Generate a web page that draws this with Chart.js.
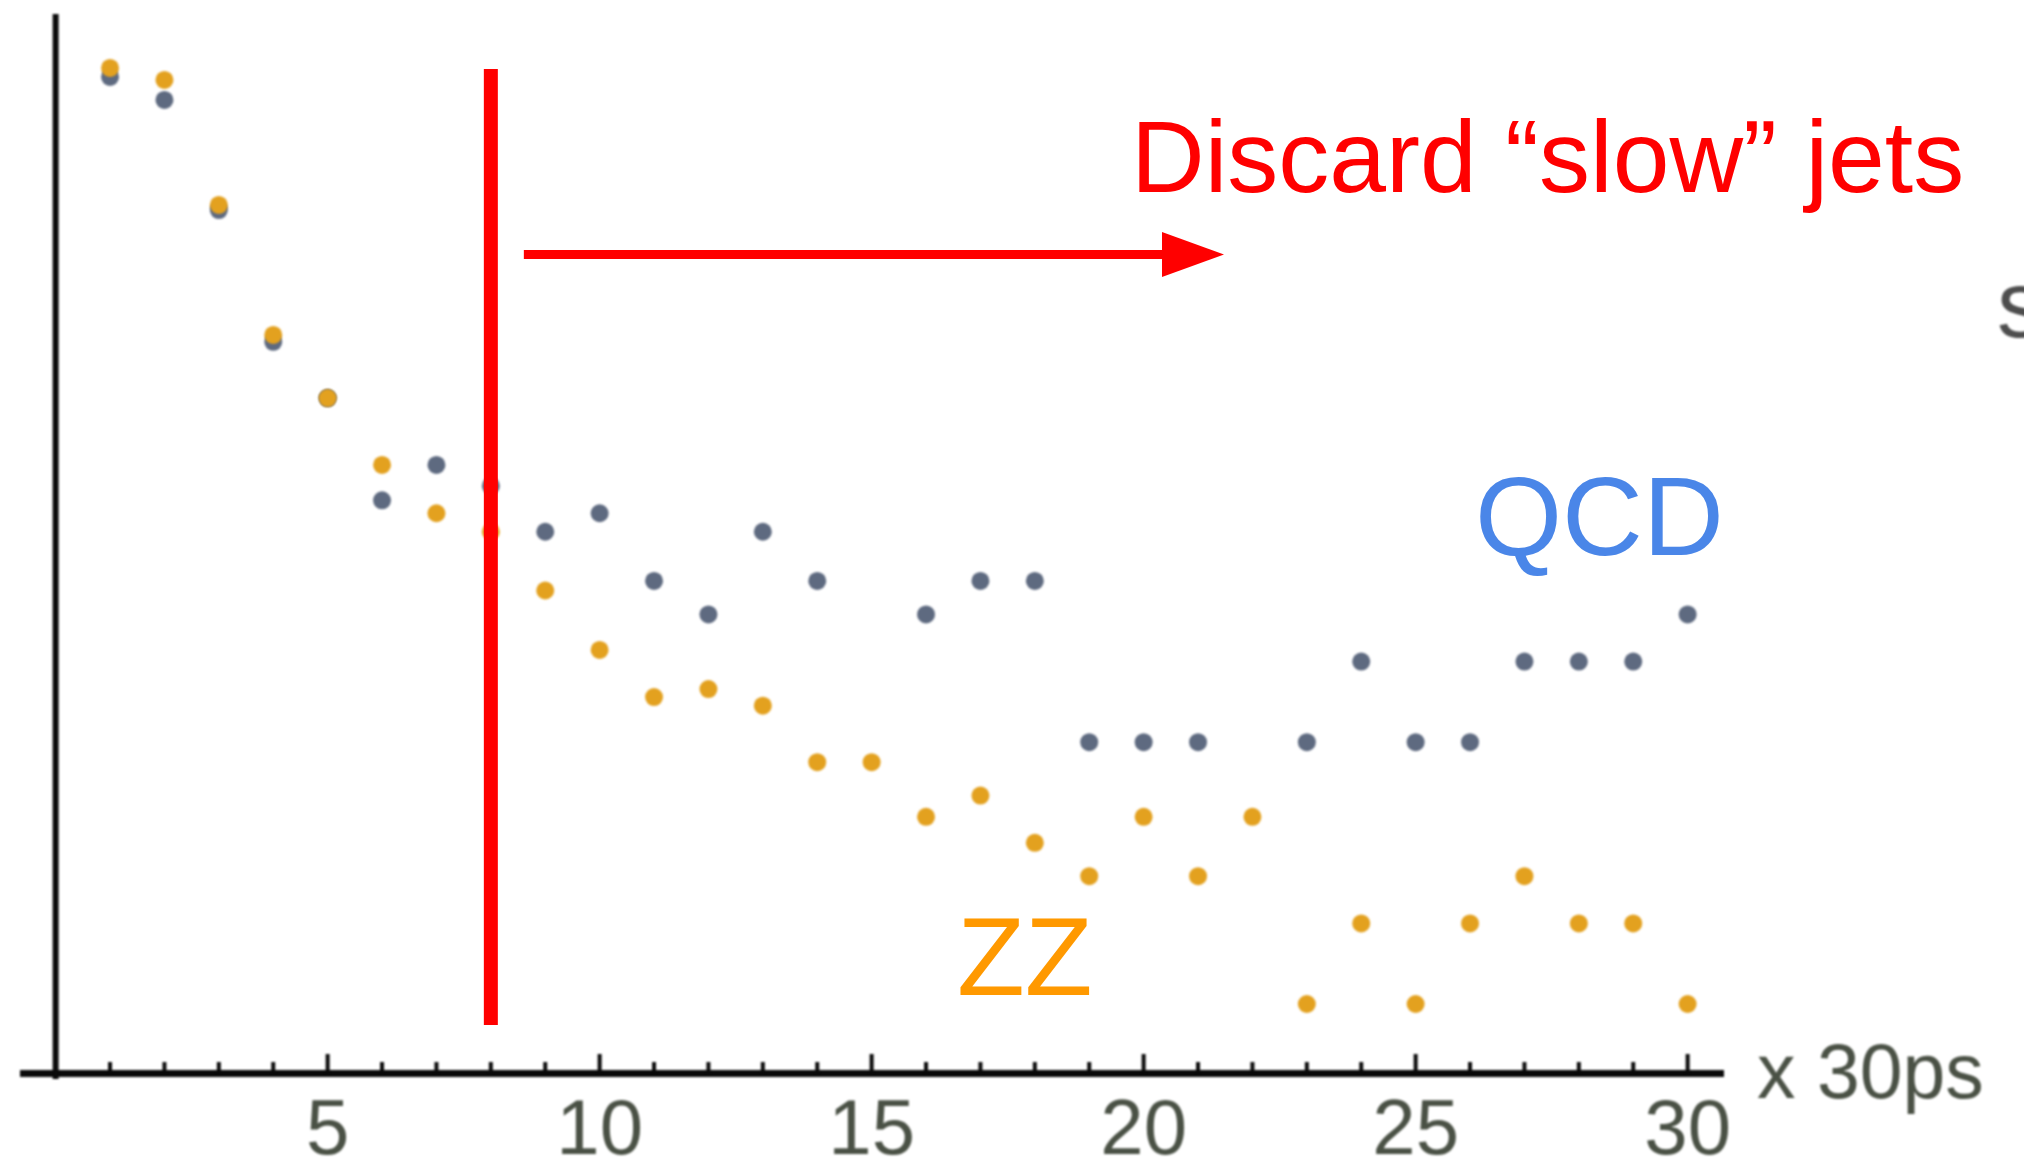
<!DOCTYPE html>
<html>
<head>
<meta charset="utf-8">
<title>Jet timing: QCD vs ZZ</title>
<script src="https://cdn.jsdelivr.net/npm/chart.js@4.4.1/dist/chart.umd.min.js"></script>
<style>
	html, body {
		margin: 0;
		padding: 0;
		background: #ffffff;
		overflow: hidden;
	}
	canvas {
		display: block;
	}
</style>
</head>
<body>
<canvas id="myChart" width="2034" height="1174"></canvas>
<script>
// time bins, 1 bin = 30 ps
const bins = [1, 2, 3, 4, 5, 6, 7, 8, 9, 10, 11, 12, 13, 14, 15, 16, 17, 18, 19, 20, 21, 22, 23, 24, 25, 26, 27, 28, 29, 30];
const tickLabels = [5, 10, 15, 20, 25, 30];

// jets per bin (log scale), null = empty bin
const zzValues = [3130, 2822, 963, 315, 183, 103, 68, 58, 35, 21, 14, 15, 13, 8, 8, 5, 6, 4, 3, 5, 3, 5, 1, 2, 1, 2, 3, 2, 2, 1];
const qcdValues = [2895, 2376, 922, 297, 183, 76, 103, 86, 58, 68, 38, 28.5, 58, 38, null, 28.5, 38, 38, 9.5, 9.5, 9.5, null, 9.5, 19, 9.5, 9.5, 19, 19, 19, 28.5];

const cutBin = 8;

const toPoints = (values) => {
	return bins
		.map((b, i) => ({ x: b, y: values[i] }))
		.filter((p) => p.y !== null);
};

const fontFamily = '"Liberation Sans", Arial, sans-serif';

// inward ticks and the vertical axis through x = 0
const axesPlugin = {
	id: 'axesPlugin',
	beforeDatasetsDraw(chart) {
		const ctx = chart.ctx;
		const xScale = chart.scales.x;
		const area = chart.chartArea;
		const x0 = xScale.getPixelForValue(0);

		ctx.save();
		ctx.strokeStyle = '#0a0a0a';
		ctx.lineWidth = 6;
		ctx.beginPath();
		ctx.moveTo(x0, area.top - 2);
		ctx.lineTo(x0, area.bottom + 6);
		ctx.stroke();

		ctx.lineWidth = 4;
		bins.forEach((b) => {
			const px = xScale.getPixelForValue(b);
			const len = b % 5 === 0 ? 19 : 11;
			ctx.beginPath();
			ctx.moveTo(px, area.bottom);
			ctx.lineTo(px, area.bottom - len);
			ctx.stroke();
		});
		ctx.restore();
	},
};

// soft look of the plotted part
const softPlugin = {
	id: 'softPlugin',
	beforeDraw(chart) {
		chart.ctx.filter = 'blur(1px)';
	},
	afterDatasetsDraw(chart) {
		chart.ctx.filter = 'none';
	},
};

// cut line, arrow and labels
const notesPlugin = {
	id: 'notesPlugin',
	afterDraw(chart) {
		const ctx = chart.ctx;
		const xScale = chart.scales.x;
		const cutX = xScale.getPixelForValue(cutBin);

		ctx.save();
		ctx.filter = 'none';

		ctx.strokeStyle = '#ff0000';
		ctx.fillStyle = '#ff0000';
		ctx.lineWidth = 14;
		ctx.beginPath();
		ctx.moveTo(cutX, 69);
		ctx.lineTo(cutX, 1025);
		ctx.stroke();

		ctx.lineWidth = 9;
		ctx.beginPath();
		ctx.moveTo(cutX + 33, 254.5);
		ctx.lineTo(1164, 254.5);
		ctx.stroke();

		ctx.beginPath();
		ctx.moveTo(1162, 232);
		ctx.lineTo(1224, 254.5);
		ctx.lineTo(1162, 277);
		ctx.closePath();
		ctx.fill();

		ctx.textAlign = 'left';
		ctx.textBaseline = 'alphabetic';

		ctx.font = '102px ' + fontFamily;
		ctx.fillText('Discard \u201Cslow\u201D jets', 1131, 192);

		ctx.fillStyle = '#4a86e8';
		ctx.font = '112px ' + fontFamily;
		ctx.fillText('QCD', 1475, 555);

		ctx.fillStyle = '#ff9900';
		ctx.font = '111px ' + fontFamily;
		ctx.fillText('ZZ', 957, 995);

		ctx.filter = 'blur(1px)';
		ctx.fillStyle = '#4a5145';
		ctx.font = '77px ' + fontFamily;
		ctx.fillText('x 30ps', 1757, 1098);

		ctx.beginPath();
		ctx.rect(1980, 260, 44, 100);
		ctx.clip();
		ctx.fillStyle = '#4d4d4d';
		ctx.font = '94px ' + fontFamily;
		ctx.fillText('s', 1997, 337);
		ctx.restore();
	},
};

const ctx = document.getElementById('myChart');
const myChart = new Chart(ctx, {
	type: 'scatter',
	data: {
		datasets: [
			{
				label: 'ZZ',
				data: toPoints(zzValues),
				backgroundColor: '#e3a11f',
				borderWidth: 0,
				pointRadius: 9,
			},
			{
				label: 'QCD',
				data: toPoints(qcdValues),
				backgroundColor: '#5e6a80',
				borderWidth: 0,
				pointRadius: 9,
			},
		],
	},
	options: {
		responsive: false,
		animation: false,
		events: [],
		layout: {
			padding: { top: 16, left: 23, right: 311, bottom: 0 },
		},
		plugins: {
			legend: { display: false },
			tooltip: { enabled: false },
		},
		scales: {
			x: {
				type: 'linear',
				min: -0.6,
				max: 30.65,
				afterBuildTicks: (scale) => {
					scale.ticks = tickLabels.map((v) => ({ value: v }));
				},
				afterFit: (scale) => {
					scale.height = 101;
				},
				grid: { display: false, drawTicks: false },
				border: { display: true, color: '#0a0a0a', width: 7 },
				ticks: {
					autoSkip: false,
					maxRotation: 0,
					padding: 13,
					color: '#4a5145',
					font: { family: fontFamily, size: 78 },
				},
			},
			y: {
				type: 'logarithmic',
				display: false,
				min: 0.5525,
				max: 4890,
			},
		},
	},
	plugins: [softPlugin, axesPlugin, notesPlugin],
});
</script>
</body>
</html>
